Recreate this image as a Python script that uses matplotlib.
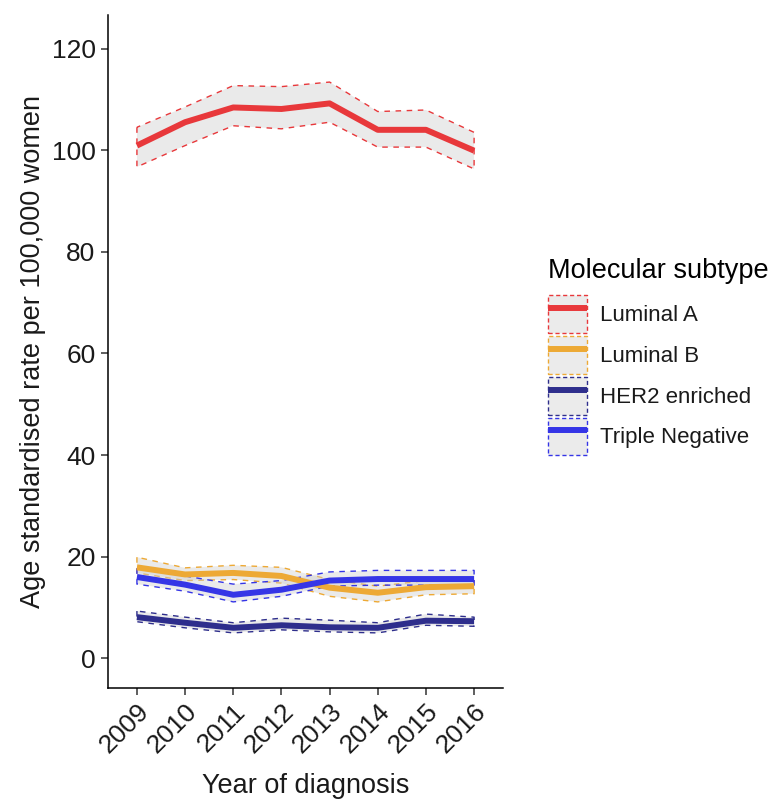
#!/usr/bin/env python3
# -*- coding: utf-8 -*-
"""
Age standardised incidence by molecular subtype, 2009-2016, with confidence bands.
"""

import numpy as np
import matplotlib
matplotlib.use("Agg")
import matplotlib.pyplot as plt
from matplotlib.patches import Patch
from matplotlib.lines import Line2D
from matplotlib.legend_handler import HandlerTuple

plt.rcParams['font.family'] = ['Liberation Sans', 'DejaVu Sans']

### data
years = [2009, 2010, 2011, 2012, 2013, 2014, 2015, 2016]
subtypes = ["Luminal A", "Luminal B", "HER2 enriched", "Triple Negative"]

lum_a      = [100.9, 105.5, 108.4, 108.1, 109.2, 104.0, 104.0, 99.9]
lum_a_low  = [96.7, 100.9, 104.8, 104.2, 105.5, 100.6, 100.6, 96.3]
lum_a_high = [104.5, 108.5, 112.7, 112.5, 113.4, 107.6, 107.9, 103.5]

lum_b      = [17.9, 16.5, 16.8, 16.2, 13.9, 12.9, 14.0, 14.2]
lum_b_low  = [16.8, 15.3, 15.5, 14.8, 12.2, 11.1, 12.5, 12.7]
lum_b_high = [19.9, 17.8, 18.3, 17.9, 15.5, 14.2, 15.3, 15.3]

her2      = [8.1, 7.0, 6.0, 6.5, 6.1, 6.0, 7.4, 7.3]
her2_low  = [7.2, 6.0, 5.0, 5.6, 5.2, 5.0, 6.5, 6.3]
her2_high = [9.3, 8.1, 7.0, 7.9, 7.5, 7.0, 8.7, 8.1]

tn      = [16.0, 14.5, 12.5, 13.5, 15.3, 15.6, 15.6, 15.6]
tn_low  = [14.6, 13.2, 11.1, 12.2, 14.2, 14.4, 14.4, 14.4]
tn_high = [17.7, 16.2, 14.6, 15.3, 17.0, 17.3, 17.3, 17.3]

colors = ["#E8383B", "#EDA935", "#2E2E8C", "#3535E6"]

series = [
    (lum_a, lum_a_low, lum_a_high),
    (lum_b, lum_b_low, lum_b_high),
    (her2, her2_low, her2_high),
    (tn, tn_low, tn_high),
]

### figure
fig = plt.figure(figsize=(7.71, 8.01), dpi=100)
ax = fig.add_axes([0.1401, 0.1411, 0.5123, 0.8402])

dash = (0, (4, 4))
band_fill = (0.80, 0.80, 0.80, 0.4)
# ribbons: grey fill, dashed outline all round
for (mid, lo, hi), c in zip(series, colors):
    ax.fill_between(years, lo, hi, facecolor=band_fill, edgecolor=c,
                    linewidth=1.0, linestyle=dash, zorder=1)
for (mid, lo, hi), c in zip(series, colors):
    ax.plot(years, mid, color=c, lw=4.3, solid_capstyle='butt',
            solid_joinstyle='round', zorder=3)

ax.set_xlim(2008.4, 2016.6)
ax.set_ylim(-5.84, 126.6)
ax.set_xticks(years)
ax.set_xticklabels([str(y) for y in years], rotation=45, ha='right',
                   rotation_mode='anchor')
ax.set_yticks([0, 20, 40, 60, 80, 100, 120])

for s in ['top', 'right']:
    ax.spines[s].set_visible(False)
for s in ['left', 'bottom']:
    ax.spines[s].set_linewidth(1.1)
    ax.spines[s].set_color('black')
ax.tick_params(axis='both', labelsize=19, colors='#333333', length=5, width=1.1,
               labelcolor='#1A1A1A')
ax.tick_params(axis='x', pad=3)
ax.tick_params(axis='y', pad=4)

ax.set_xlabel("Year of diagnosis", fontsize=19.5, color='#1A1A1A', labelpad=11)
ax.set_ylabel("Age standardised rate per 100,000 women", fontsize=19.5,
              color='#1A1A1A', labelpad=4)

### legend
handles = []
for c in colors:
    box = Patch(facecolor='#EBEBEB', edgecolor=c, linestyle=(0, (3, 2)), linewidth=1.0)
    ln = Line2D([], [], color=c, lw=4.3, solid_capstyle='butt')
    handles.append((box, ln))

leg = fig.legend(handles, subtypes, handler_map={tuple: HandlerTuple(ndivide=1, pad=0)},
                 loc='upper left', bbox_to_anchor=(0.7108, 0.678), frameon=False,
                 fontsize=16, title="Molecular subtype", title_fontsize=19.5,
                 handlelength=1.75, handleheight=2.25, labelspacing=0.13,
                 handletextpad=0.6, borderpad=0, borderaxespad=0)
leg._legend_box.align = "left"
leg._legend_box.sep = 8
for t in leg.get_texts():
    t.set_color('#1A1A1A')

fig.savefig("out.png", dpi=100)
plt.close()
